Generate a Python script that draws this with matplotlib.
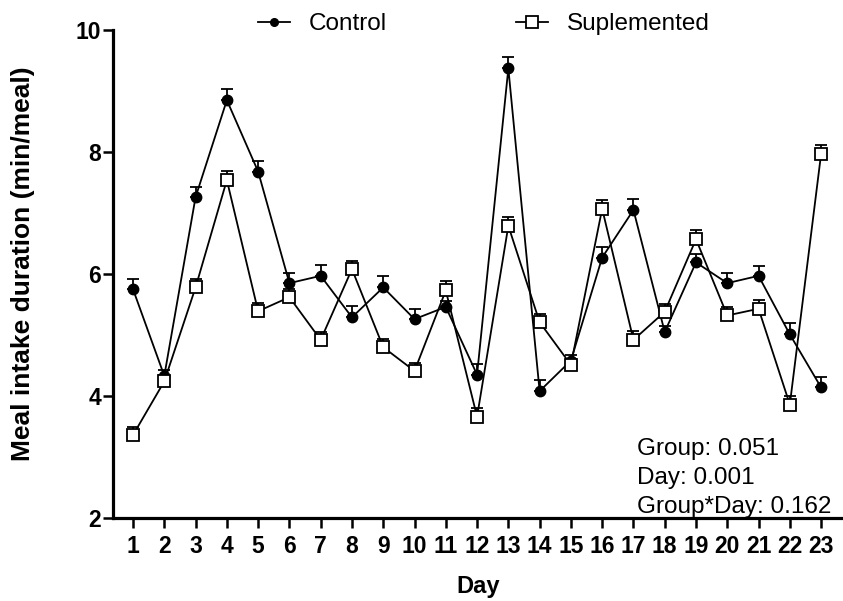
import matplotlib
matplotlib.use("Agg")
import matplotlib.pyplot as plt
from matplotlib.lines import Line2D
import numpy as np

plt.rcParams['font.family'] = ['Liberation Sans', 'DejaVu Sans']

days = list(range(1, 24))
control = [5.75, 4.33, 7.26, 8.85, 7.68, 5.85, 5.97, 5.29, 5.78, 5.26, 5.46,
           4.35, 9.37, 4.08, 4.58, 6.27, 7.05, 5.05, 6.19, 5.85, 5.97, 5.01, 4.14]
control_err = [0.17, 0.10, 0.17, 0.18, 0.17, 0.17, 0.17, 0.18, 0.18, 0.17, 0.10,
               0.17, 0.18, 0.18, 0.10, 0.17, 0.18, 0.10, 0.14, 0.17, 0.16, 0.18, 0.17]
suplemented = [3.36, 4.24, 5.78, 7.54, 5.39, 5.62, 4.92, 6.08, 4.80, 4.41, 5.73,
               3.66, 6.79, 5.21, 4.51, 7.07, 4.92, 5.38, 6.57, 5.32, 5.43, 3.86, 7.97]
suplemented_err = [0.14, 0.10, 0.13, 0.15, 0.14, 0.14, 0.13, 0.14, 0.13, 0.13, 0.15,
                   0.14, 0.14, 0.14, 0.10, 0.14, 0.14, 0.13, 0.15, 0.14, 0.14, 0.14, 0.14]
yticks = [2, 4, 6, 8, 10]
stats_lines = ["Group: 0.051", "Day: 0.001", "Group*Day: 0.162"]

W, H = 843, 601
fig = plt.figure(figsize=(W / 100, H / 100), dpi=100)
ax = fig.add_axes([113 / W, (H - 518) / H, (W - 113) / W, 488 / H])

zeros = np.zeros(len(days))
ax.errorbar(days, control, yerr=[zeros, control_err], fmt='-o', color='black',
            mfc='black', mec='black', ms=7.5, lw=1.3, elinewidth=1.3,
            capsize=4, capthick=1.3, zorder=3)
ax.errorbar(days, suplemented, yerr=[zeros, suplemented_err], fmt='-s', color='black',
            mfc='white', mec='black', mew=1.3, ms=8.5, lw=1.3, elinewidth=1.3,
            capsize=4, capthick=1.3, zorder=4)

ax.set_xlim(0.36, 23.7)
ax.set_ylim(2, 10)
ax.set_xticks(days)
ax.set_xticklabels([str(d) for d in days])
ax.set_yticks(yticks)
ax.set_yticklabels([str(v) for v in yticks])

for s in ['top', 'right']:
    ax.spines[s].set_visible(False)
for s in ['left', 'bottom']:
    ax.spines[s].set_linewidth(2.3)
ax.tick_params(axis='both', direction='out', length=7, width=1.8)
ax.tick_params(axis='x', pad=5)
ax.tick_params(axis='y', pad=1.5)
for lab in ax.get_xticklabels() + ax.get_yticklabels():
    lab.set_fontsize(16.5)
    lab.set_fontweight('bold')

fig.text(23 / W, 1 - 264 / H, "Meal intake duration (min/meal)", rotation=90,
         ha='center', va='center', fontsize=19, fontweight='bold')
fig.text(478 / W, 1 - 587 / H, "Day", ha='center', va='center',
         fontsize=17, fontweight='bold')

baselines = [455, 484, 513]
for txt, yb in zip(stats_lines, baselines):
    fig.text(637 / W, 1 - yb / H, txt, ha='left', va='baseline', fontsize=17.5)

h1 = Line2D([], [], color='black', lw=1.3, marker='o', ms=5.5, mfc='black')
h2 = Line2D([], [], color='black', lw=1.3, marker='s', ms=8, mfc='white', mew=1.3)
fig.legend([h1, h2], ["Control", "Suplemented"], loc='center',
           bbox_to_anchor=(484 / W, 1 - 24 / H), ncol=2, frameon=False,
           fontsize=17.5, handlelength=1.3, handletextpad=0.8, columnspacing=5.3,
           borderpad=0)

fig.savefig("out.png", dpi=100)
